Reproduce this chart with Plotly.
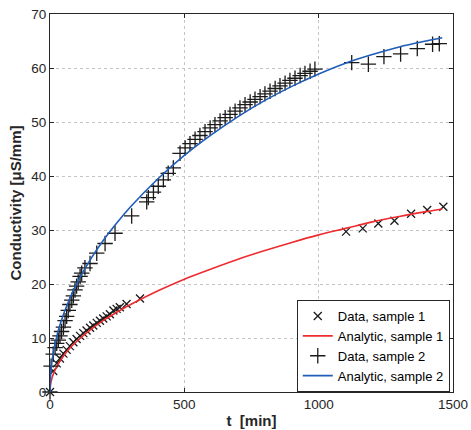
import plotly.graph_objects as go

# ---- data ----
t_data1 = [0, 12, 25, 37, 50, 62, 74, 87, 99, 112, 124, 136, 149, 161, 174, 186, 198, 211,
           223, 236, 248, 260, 285, 335, 1102, 1164, 1222, 1282, 1344, 1404, 1464]
v_data1 = [0, 3.9, 5.3, 6.2, 7.1, 7.8, 8.5, 9.2, 9.8, 10.4, 10.9, 11.4, 11.9, 12.3, 12.8, 13.2,
           13.6, 14.0, 14.4, 15.1, 15.4, 15.7, 16.3, 17.3, 29.7, 30.3, 31.2, 31.7, 33.0, 33.7, 34.3]

t_data2 = [0, 4, 12, 19, 25, 31, 37, 43, 50, 56, 62, 68, 74, 81, 87, 93, 99, 105, 112, 118,
           130, 149, 174, 205, 242, 304, 360, 366, 385, 403, 422, 440, 459,
           484, 503, 521, 540, 558, 577, 596, 614, 633, 652, 670, 689, 707, 726, 745, 763,
           782, 800, 819, 838, 856, 875, 893, 912, 931, 949, 968, 986,
           1123, 1185, 1243, 1305, 1367, 1424, 1449]
v_data2 = [0, 4.8, 7.0, 8.2, 9.0, 9.6, 10.4, 11.2, 12.0, 13.2, 14.0, 15.1, 16.2, 17.0, 17.8,
           18.9, 19.6, 20.4, 21.4, 22.0, 23.0, 23.8, 25.7, 27.5, 29.4, 32.6, 35.2, 36.0, 37.0,
           38.1, 39.3, 40.5, 41.5,
           44.2, 45.2, 46.0, 46.8, 47.5, 48.2, 48.9, 49.5, 50.2, 50.8, 51.4, 52.0, 52.6, 53.2,
           53.7, 54.2, 54.7, 55.2, 55.7, 56.2, 56.7, 57.2, 57.7, 58.1, 58.6, 59.0, 59.4, 59.8,
           61.0, 60.7, 62.1, 62.6, 63.6, 64.4, 64.5]

t_model = [0, 2, 5, 10, 20, 40, 70, 100, 150, 200, 250, 300, 400, 500, 600, 700, 800, 900,
           1000, 1100, 1200, 1300, 1400, 1460]
v_model1 = [0, 1.3, 2.1, 3.0, 4.2, 5.9, 7.9, 9.4, 11.5, 13.3, 14.8, 16.2, 18.7, 20.9, 22.8,
            24.6, 26.2, 27.7, 29.1, 30.3, 31.5, 32.5, 33.4, 33.9]
v_model2 = [0, 2.9, 4.6, 6.5, 9.2, 12.9, 16.9, 20.1, 24.5, 28.2, 31.4, 34.3, 39.4, 43.8, 47.6,
            51.0, 54.0, 56.6, 58.9, 60.9, 62.5, 63.9, 65.0, 65.6]

x_ticks = [0, 500, 1000, 1500]
y_ticks = [0, 10, 20, 30, 40, 50, 60, 70]

RED = "#ee2b2f"
BLUE = "#1f5db8"
INK = "#262626"
FONT = "Liberation Sans, Arial, sans-serif"

fig = go.Figure()
fig.add_trace(go.Scatter(x=t_data1, y=v_data1, mode="markers", name="Data, sample 1",
                         marker=dict(symbol="x-thin", size=8, color="black",
                                     line=dict(width=1.3, color="#1a1a1a")),
                         cliponaxis=False))
fig.add_trace(go.Scatter(x=t_model, y=v_model1, mode="lines", name="Analytic, sample 1",
                         line=dict(color=RED, width=1.6, shape="spline")))
fig.add_trace(go.Scatter(x=t_data2, y=v_data2, mode="markers", name="Data, sample 2",
                         marker=dict(symbol="cross-thin", size=11, color="black",
                                     line=dict(width=1.3, color="#1a1a1a")),
                         cliponaxis=False))
fig.add_trace(go.Scatter(x=t_model, y=v_model2, mode="lines", name="Analytic, sample 2",
                         line=dict(color=BLUE, width=1.6, shape="spline")))

axis_common = dict(showline=True, linecolor=INK, linewidth=1, mirror="ticks",
                   ticks="inside", ticklen=4, tickcolor=INK, automargin=False,
                   ticklabeloverflow="allow",
                   showgrid=True, gridcolor="#c4c4c4", griddash="dot", gridwidth=1,
                   zeroline=False, tickfont=dict(family=FONT, size=13.5, color=INK))

fig.update_xaxes(range=[0, 1500], tickvals=x_ticks,
                 title=dict(text="t\u00a0\u00a0[min]", font=dict(family=FONT, size=15, color=INK,
                                                            weight="bold"), standoff=4),
                 **axis_common)
fig.update_yaxes(range=[0, 70], tickvals=y_ticks,
                 title=dict(text="Conductivity [μS/mm]",
                            font=dict(family=FONT, size=15, color=INK, weight="bold"), standoff=6),
                 **axis_common)

fig.update_layout(
    width=471, height=430,
    margin=dict(l=50, r=18, t=14, b=38),
    paper_bgcolor="white", plot_bgcolor="white",
    showlegend=True,
    legend=dict(x=0.992, y=0.0, xanchor="right", yanchor="bottom",
                bgcolor="white", bordercolor=INK, borderwidth=1,
                font=dict(family=FONT, size=13, color="black"),
                tracegroupgap=0, itemwidth=30),
)

# remove the default 8px page margin so the figure fills the window exactly
fig.write_html("out.html", config={"displayModeBar": False},
               post_script="document.body.style.margin='0';")
